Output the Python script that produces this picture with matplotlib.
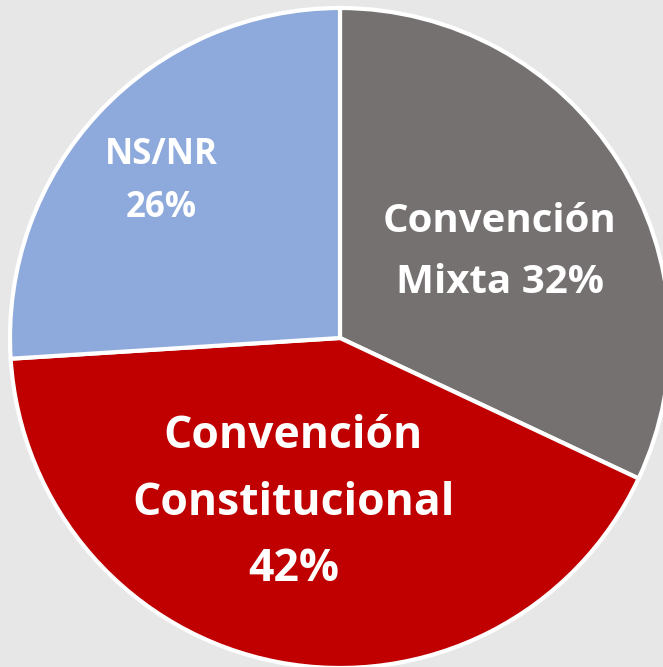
import numpy as np
import matplotlib.pyplot as plt

labels = ["Convención\nMixta 32%", "Convención\nConstitucional\n42%", "NS/NR\n26%"]
shares = [32, 42, 26]
colors = ["#767171", "#C00000", "#8EA9DB"]
# where each label sits: fraction of radius, angle tweak (deg), font size, line spacing
label_dist = [0.55, 0.52, 0.72]
label_turn = [-4, -5, 2]
label_size = [29, 32, 25]
label_space = [1.74, 1.63, 1.66]

plt.rcParams['font.family'] = ['Open Sans', 'DejaVu Sans']

fig = plt.figure(figsize=(6.63, 6.67), dpi=100)
fig.patch.set_facecolor("#E7E7E7")
ax = fig.add_axes([0, 0, 1, 1])
ax.set_facecolor("#E7E7E7")

cx, cy, r = 340, 329, 330
wedges, _ = ax.pie(shares, colors=colors, startangle=90, counterclock=False,
                   center=(cx, cy), radius=r, frame=True,
                   wedgeprops=dict(edgecolor="white", linewidth=3))
ax.set_xlim(0, 663)
ax.set_ylim(0, 667)
ax.set_aspect("equal")
ax.axis("off")

for w, lab, d, t, s, ls in zip(wedges, labels, label_dist, label_turn, label_size, label_space):
    ang = np.deg2rad((w.theta1 + w.theta2) / 2 + t)
    ax.text(cx + d * r * np.cos(ang), cy + d * r * np.sin(ang), lab,
            ha="center", va="center", color="white", fontsize=s,
            fontweight="bold", linespacing=ls, multialignment="center")

fig.savefig("out.png", dpi=100, facecolor=fig.get_facecolor())
